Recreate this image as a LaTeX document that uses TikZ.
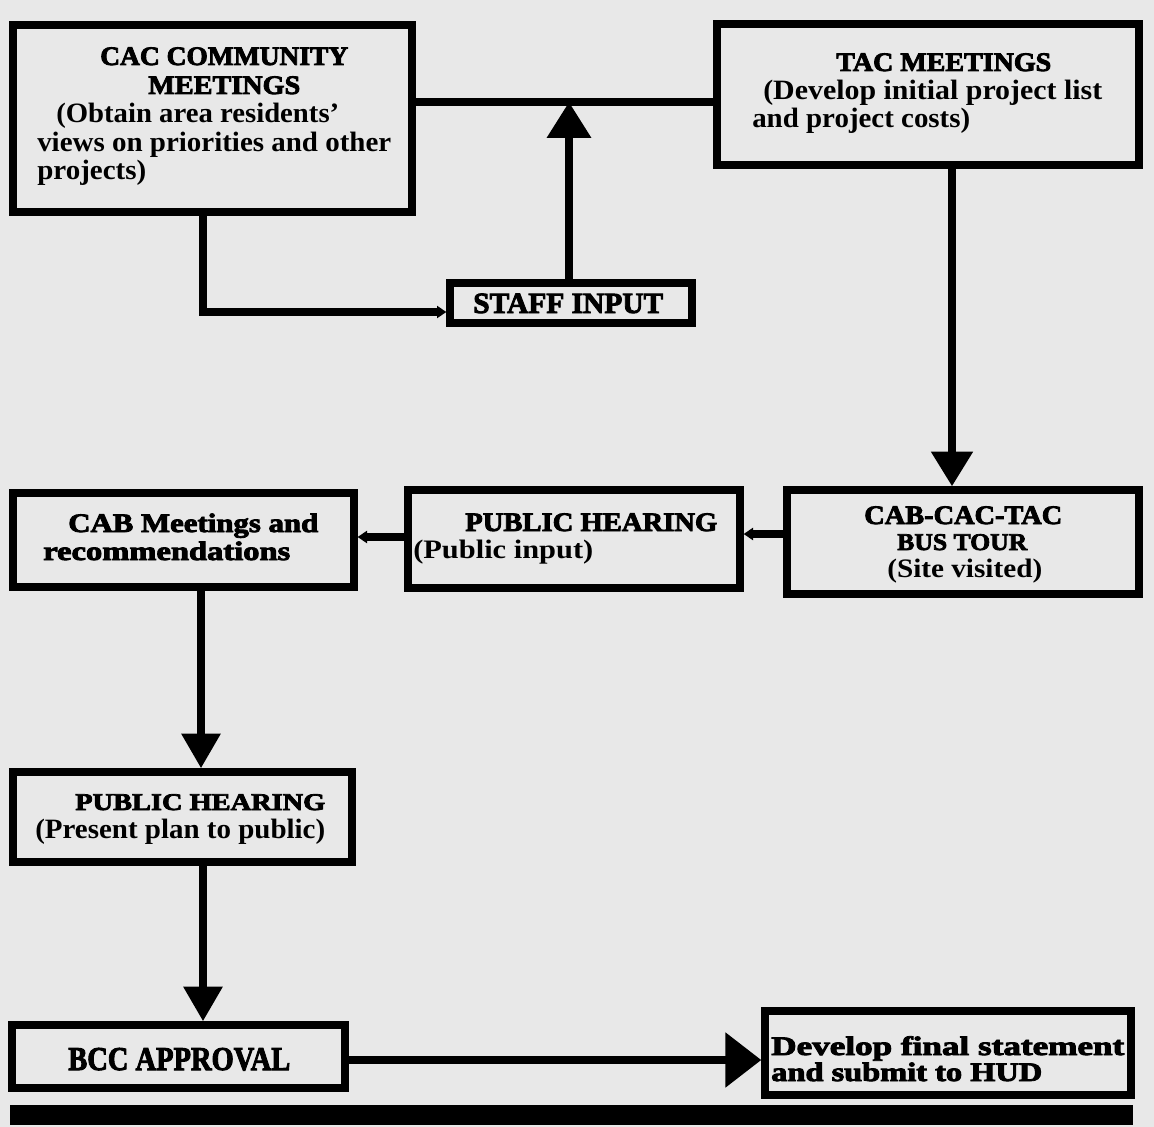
\documentclass[tikz,border=0pt]{standalone}
\usepackage{fontspec}
\usepackage{graphicx}
\setmainfont{Liberation Serif}
\newfontfamily\heavyfont{Liberation Serif}[FakeBold=3]
\usetikzlibrary{arrows.meta,fit}
\newsavebox\lbox
\newcommand\fitto[2]{\sbox\lbox{#2}\pgfmathsetmacro\fac{#1*0.75/\wd\lbox}\scalebox{\fac}[1]{\usebox\lbox}}
\begin{document}
\begin{tikzpicture}[x=0.75pt,y=-0.75pt,
  box/.style={draw=black,line width=5.5pt,inner sep=0pt},
  link/.style={line width=6pt},
  big/.style={link,-{Triangle[length=27pt,width=32pt]}},
  small/.style={link,-{Triangle[length=7pt,width=9pt]}},
  ttl/.style={inner sep=0pt,anchor=base west,font=\heavyfont\bfseries\fontsize{20}{22}\selectfont},
  txt/.style={inner sep=0pt,anchor=base west,font=\bfseries\fontsize{21}{23}\selectfont}]
\fill[black!9] (0,0) rectangle (1154,1127);
\useasboundingbox (0,0) rectangle (1154,1127);
% boxes
\node[box,fit={(13,25)(412,212)}] (cac) {};
\node[box,fit={(717,24)(1139,165)}] (tac) {};
\node[box,fit={(450,283)(692,323)}] (staff) {};
\node[box,fit={(787,490)(1139,594)}] (bus) {};
\node[box,fit={(408,490)(740,588)}] (ph1) {};
\node[box,fit={(13,493)(354,587)}] (cab) {};
\node[box,fit={(13,772)(352,862)}] (ph2) {};
\node[box,fit={(12,1025)(345,1088)}] (bcc) {};
\node[box,fit={(765,1011)(1131,1095)}] (dev) {};
\node[fill=black,inner sep=0pt,fit={(10,1105)(1133,1125)}] (bar) {};
% texts
\node[ttl] (cac1) at (100,65) {\fitto{248}{CAC COMMUNITY}};
\node[ttl] (cac2) at (148,94) {\fitto{152}{MEETINGS}};
\node[txt] (cac3) at (56,123) {\fitto{283}{(Obtain area residents'}};
\node[txt] (cac4) at (37,152) {\fitto{354}{views on priorities and other}};
\node[txt] (cac5) at (37,180) {\fitto{109}{projects)}};
\node[ttl] (tac1) at (836,71) {\fitto{215}{TAC MEETINGS}};
\node[txt] (tac2) at (763,100) {\fitto{339}{(Develop initial project list}};
\node[txt] (tac3) at (752,128) {\fitto{218}{and project costs)}};
\node[ttl,font=\heavyfont\bfseries\fontsize{22}{24}\selectfont] (st1) at (473,313) {\fitto{190}{STAFF INPUT}};
\node[ttl] (bus1) at (864,524) {\fitto{198}{CAB-CAC-TAC}};
\node[ttl,font=\heavyfont\bfseries\fontsize{18}{20}\selectfont] (bus2) at (897,550) {\fitto{130}{BUS TOUR}};
\node[txt,font=\bfseries\fontsize{20}{22}\selectfont] (bus3) at (887,577) {\fitto{155}{(Site visited)}};
\node[ttl] (ph1a) at (465,531) {\fitto{252}{PUBLIC HEARING}};
\node[txt,font=\bfseries\fontsize{20}{22}\selectfont] (ph1b) at (413,558) {\fitto{180}{(Public input)}};
\node[ttl] (cab1) at (68,532) {\fitto{250}{CAB Meetings and}};
\node[ttl] (cab2) at (43,560) {\fitto{247}{recommendations}};
\node[ttl,font=\heavyfont\bfseries\fontsize{18}{20}\selectfont] (ph2a) at (75,810) {\fitto{250}{PUBLIC HEARING}};
\node[txt] (ph2b) at (35,838) {\fitto{290}{(Present plan to public)}};
\node[ttl,font=\heavyfont\bfseries\fontsize{25}{27}\selectfont] (bcc1) at (68,1070) {\fitto{222}{BCC APPROVAL}};
\node[ttl] (dev1) at (771,1055) {\fitto{353}{Develop final statement}};
\node[ttl] (dev2) at (771,1081) {\fitto{271}{and submit to HUD}};
% connectors
\coordinate (j) at (569,102);
\draw[link] (cac.east |- j) -- (tac.west |- j);
\draw[big] (staff.north -| j) -- (j);
\coordinate (k) at (203,312);
\draw[small] (cac.south -| k) -- (k) -- (staff.west |- k);
\coordinate (m) at (952,300);
\draw[big,-{Triangle[length=26pt,width=30pt]}] (tac.south -| m) -- (bus.north -| m);
\coordinate (n) at (760,534);
\draw[small] (bus.west |- n) -- (ph1.east |- n);
\coordinate (p) at (380,537);
\draw[small] (ph1.west |- p) -- (cab.east |- p);
\coordinate (q) at (201,680);
\draw[big,-{Triangle[length=26pt,width=28pt]}] (cab.south -| q) -- (ph2.north -| q);
\coordinate (r) at (203,940);
\draw[big,-{Triangle[length=26pt,width=28pt]}] (ph2.south -| r) -- (bcc.north -| r);
\coordinate (s) at (550,1060);
\draw[link,-{Triangle[length=27pt,width=40pt]}] (bcc.east |- s) -- (dev.west |- s);
\end{tikzpicture}
\end{document}
